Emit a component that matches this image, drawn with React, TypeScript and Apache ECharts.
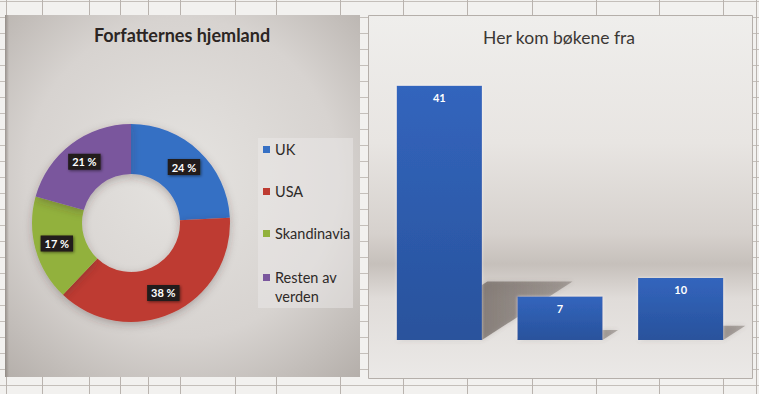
import React, { useEffect, useRef } from "react";
import * as echarts from "echarts";

// ---- data ----
const pieTitle = "Forfatternes hjemland";
const pieNames = ["UK", "USA", "Skandinavia", "Resten av verden"];
const pieValues = [14, 22, 10, 12];
const pieColors = ["#3670c4", "#be3b31", "#92b13c", "#7a569d"];

const barTitle = "Her kom bøkene fra";
const barCategories = ["Kjøpt", "Bibliotek", "Forlag"];
const barValues = [41, 7, 10];

// spreadsheet grid (decoration)
const sheetCols = [6, 42, 89, 120, 148, 180, 235, 276, 340, 403, 467, 532, 596, 659, 723, 756];

const FONT = "Lato, 'Open Sans', sans-serif";

export default function App() {
  const ref = useRef<HTMLDivElement>(null);

  useEffect(() => {
    document.body.style.margin = "0";
    if (!ref.current) return;
    const chart = echarts.init(ref.current, undefined, { renderer: "svg" });

    const gridLines: any[] = [];
    for (let y = 1; y < 394; y += 16) {
      gridLines.push({
        type: "line",
        z: 0,
        shape: { x1: 0, y1: y + 0.5, x2: 759, y2: y + 0.5 },
        style: { stroke: "#c4bfba", lineWidth: 1 },
      });
    }
    sheetCols.forEach((x) =>
      gridLines.push({
        type: "line",
        z: 0,
        shape: { x1: x + 0.5, y1: 0, x2: x + 0.5, y2: 394 },
        style: { stroke: "#b9b3ae", lineWidth: 1 },
      })
    );

    const legendText = { fontFamily: FONT, fontSize: 14.5, color: "#2e2a28", lineHeight: 19 };

    const option: any = {
      animation: false,
      textStyle: { fontFamily: FONT },
      graphic: [
        { type: "rect", z: -1, shape: { x: 0, y: 0, width: 759, height: 394 }, style: { fill: "#f2f1ef" } },
        ...gridLines,
        // left chart panel
        {
          type: "rect",
          z: 1,
          shape: { x: 5, y: 15, width: 355, height: 362 },
          style: {
            fill: new echarts.graphic.RadialGradient(0.5, 0.45, 0.8, [
              { offset: 0, color: "#e5e3e0" },
              { offset: 0.55, color: "#d7d3d0" },
              { offset: 1, color: "#aea8a3" },
            ]),
          },
        },
        {
          type: "rect",
          z: 1,
          shape: { x: 5, y: 15, width: 4, height: 362 },
          style: {
            fill: new echarts.graphic.LinearGradient(0, 0, 1, 0, [
              { offset: 0, color: "rgba(120,112,106,0.6)" },
              { offset: 1, color: "rgba(120,112,106,0)" },
            ]),
          },
        },
        // legend box
        {
          type: "rect",
          z: 1,
          shape: { x: 258, y: 138, width: 95, height: 170 },
          style: { fill: "rgba(238,236,234,0.45)" },
        },
        // right chart panel
        {
          type: "rect",
          z: 1,
          shape: { x: 368.5, y: 15.5, width: 384, height: 363 },
          style: {
            stroke: "#b5afaa",
            lineWidth: 1,
            fill: new echarts.graphic.LinearGradient(0, 0, 0, 1, [
              { offset: 0, color: "#efeeec" },
              { offset: 0.35, color: "#e8e5e2" },
              { offset: 0.6, color: "#d6d1cd" },
              { offset: 0.685, color: "#c6c0bb" },
              { offset: 0.78, color: "#e0dcd9" },
              { offset: 1, color: "#ebe9e7" },
            ]),
          },
        },
      ],
      title: [
        {
          text: pieTitle,
          left: 177,
          top: 21,
          textAlign: "center",
          textStyle: { fontFamily: FONT, fontSize: 18, fontWeight: "bold", color: "#2b2523" },
        },
        {
          text: barTitle,
          left: 554,
          top: 23,
          textAlign: "center",
          textStyle: { fontFamily: FONT, fontSize: 17.5, fontWeight: "normal", color: "#3b3734" },
        },
      ],
      legend: [
        {
          orient: "vertical",
          left: 258,
          top: 135,
          icon: "rect",
          itemWidth: 7,
          itemHeight: 7,
          itemGap: 23,
          data: pieNames.slice(0, 3),
          selectedMode: false,
          textStyle: legendText,
        },
        {
          orient: "vertical",
          left: 258,
          top: 244,
          icon: "rect",
          itemWidth: 7,
          itemHeight: 7,
          data: [pieNames[3]],
          selectedMode: false,
          formatter: () => "\nResten av\nverden",
          textStyle: legendText,
        },
      ],
      grid: { left: 379, width: 362, top: 61, height: 279, containLabel: false },
      xAxis: {
        type: "category",
        data: barCategories,
        axisLine: { show: false },
        axisTick: { show: false },
        axisLabel: { fontFamily: FONT, fontSize: 15, color: "#3c3836", margin: 14 },
      },
      yAxis: { type: "value", min: 0, max: 45, show: false, splitLine: { show: false } },
      series: [
        {
          type: "pie",
          center: [131, 223],
          radius: [49, 99],
          startAngle: 90,
          clockwise: true,
          data: pieNames.map((n, i) => ({ name: n, value: pieValues[i], itemStyle: { color: pieColors[i] } })),
          itemStyle: { shadowBlur: 8, shadowColor: "rgba(60,50,45,0.3)", shadowOffsetY: 3 },
          label: {
            position: "inside",
            formatter: (p: any) => Math.round(p.percent) + " %",
            fontFamily: FONT,
            fontSize: 11,
            fontWeight: "bold",
            color: "#ffffff",
            backgroundColor: "#231d1a",
            padding: [3, 4, 2, 4],
            shadowBlur: 3,
            shadowColor: "rgba(0,0,0,0.5)",
            shadowOffsetX: 1,
            shadowOffsetY: 1,
          },
          labelLine: { show: false },
          emphasis: { disabled: true },
          z: 3,
        },
        {
          type: "custom",
          z: 2,
          data: barValues.map((v, i) => [i, v]),
          encode: { x: 0, y: 1 },
          renderItem: (_params: any, api: any) => {
            const idx = api.value(0);
            const v = api.value(1);
            const base = api.coord([idx, 0]);
            const top = api.coord([idx, v]);
            const half = api.size([1, 0])[0] * 0.353;
            const h = base[1] - top[1];
            const dy = h * 0.23;
            const dx = dy * 1.55;
            return {
              type: "polygon",
              shape: {
                points: [
                  [base[0] - half, base[1]],
                  [base[0] + half, base[1]],
                  [base[0] + half + dx, base[1] - dy],
                  [base[0] - half + dx, base[1] - dy],
                ],
              },
              style: {
                fill: new echarts.graphic.LinearGradient(0, 0, 1, 0, [
                  { offset: 0, color: "rgba(100,90,84,0.85)" },
                  { offset: 1, color: "rgba(100,90,84,0.4)" },
                ]),
                shadowBlur: 4,
                shadowColor: "rgba(100,90,84,0.4)",
              },
            };
          },
        },
        {
          type: "bar",
          z: 3,
          data: barValues,
          barWidth: "70.6%",
          itemStyle: {
            color: new echarts.graphic.LinearGradient(0, 0, 0, 1, [
              { offset: 0, color: "#3265bd" },
              { offset: 1, color: "#29529c" },
            ]),
            shadowBlur: 3,
            shadowColor: "rgba(255,255,255,0.6)",
          },
          label: {
            show: true,
            position: "insideTop",
            distance: 6,
            fontFamily: FONT,
            fontSize: 11,
            fontWeight: "bold",
            color: "#ffffff",
          },
          emphasis: { disabled: true },
        },
      ],
    };

    chart.setOption(option);
    return () => chart.dispose();
  }, []);

  return (
    <div
      ref={ref}
      style={{ position: "absolute", left: 0, top: 0, width: 759, height: 394 }}
    />
  );
}
